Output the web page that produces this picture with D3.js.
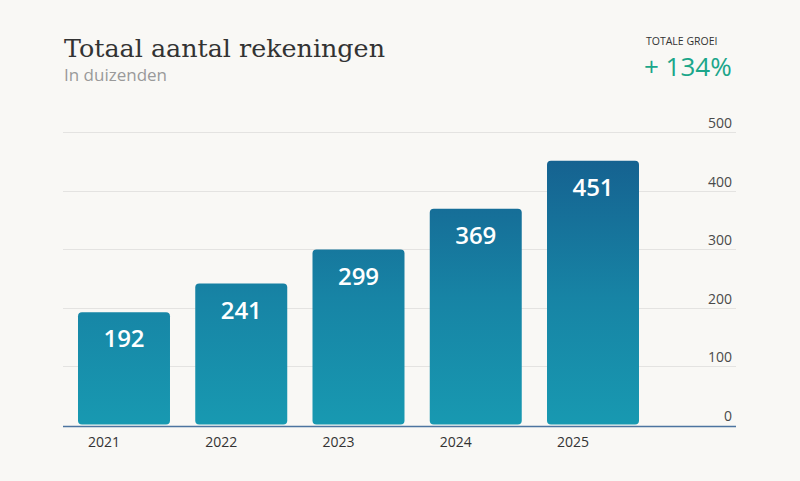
<!DOCTYPE html>
<html><head><meta charset="utf-8">
<script src="https://cdn.jsdelivr.net/npm/d3@7"></script>
<style>
html,body{margin:0;padding:0;background:#f9f8f5;}
svg{display:block;}
</style></head>
<body>
<svg id="chart" width="800" height="481"></svg>
<script>
const years = ["2021","2022","2023","2024","2025"];
const values = [192, 241, 299, 369, 451];
const yTicks = [0, 100, 200, 300, 400, 500];
const title = "Totaal aantal rekeningen";
const subtitle = "In duizenden";
const growthLabel = "TOTALE GROEI";
const growthValue = "+ 134%";

const svg = d3.select("#chart");
svg.append("rect").attr("width",800).attr("height",481).attr("fill","#f9f8f5");

const plotLeft = 63, plotRight = 736, plotTop = 132, plotBottom = 424.5;
const y = d3.scaleLinear().domain([0,500]).range([plotBottom, plotTop]);
const x = d3.scaleBand().domain(years).range([66.275, 650.725]).paddingInner(0.2154).paddingOuter(0.1);

const defs = svg.append("defs");
const grad = defs.append("linearGradient").attr("id","barGrad")
  .attr("gradientUnits","userSpaceOnUse").attr("x1",0).attr("x2",0)
  .attr("y1", y(480)).attr("y2", y(0));
grad.append("stop").attr("offset","0%").attr("stop-color","#155e8e");
grad.append("stop").attr("offset","55%").attr("stop-color","#1784a5");
grad.append("stop").attr("offset","100%").attr("stop-color","#1899b1");

// grid lines
svg.append("g").selectAll("line").data(yTicks.filter(d=>d>0)).join("line")
  .attr("x1",plotLeft).attr("x2",plotRight)
  .attr("y1",d=>Math.round(y(d))+0.5).attr("y2",d=>Math.round(y(d))+0.5)
  .attr("stroke","#e4e3e1").attr("stroke-width",1);

// y tick labels
svg.append("g").selectAll("text").data(yTicks).join("text")
  .attr("x",732).attr("y",d=>y(d)-4)
  .attr("text-anchor","end")
  .attr("font-family","'Open Sans', sans-serif").attr("font-size",14)
  .attr("fill","#4a4a4a").text(d=>d);

// bars
svg.append("g").selectAll("rect").data(values).join("rect")
  .attr("x",(d,i)=>x(years[i])).attr("width",x.bandwidth())
  .attr("y",d=>y(d)).attr("height",d=>plotBottom-y(d))
  .attr("rx",4).attr("ry",4)
  .attr("fill","url(#barGrad)");

// value labels
svg.append("g").selectAll("text").data(values).join("text")
  .attr("x",(d,i)=>x(years[i])+x.bandwidth()/2)
  .attr("y",d=>y(d)+35)
  .attr("text-anchor","middle")
  .attr("font-family","'Open Sans', sans-serif").attr("font-weight",600).attr("font-size",24)
  .attr("fill","#ffffff").text(d=>d);

// axis baseline
svg.append("line").attr("x1",plotLeft).attr("x2",plotRight).attr("y1",426.5).attr("y2",426.5)
  .attr("stroke","#4d74a0").attr("stroke-width",1.5);

// x labels
svg.append("g").selectAll("text").data(years).join("text")
  .attr("x",d=>x(d)+10).attr("y",447)
  .attr("font-family","'Open Sans', sans-serif").attr("font-size",14)
  .attr("fill","#333").text(d=>d);

// titles
svg.append("text").attr("x",64).attr("y",57)
  .attr("font-family","'DejaVu Serif', serif").attr("font-size",25)
  .attr("fill","#333").attr("textLength",321).attr("lengthAdjust","spacingAndGlyphs")
  .text(title);
svg.append("text").attr("x",64).attr("y",81)
  .attr("font-family","'Open Sans', sans-serif").attr("font-size",17)
  .attr("fill","#9a9a9a").text(subtitle);

svg.append("text").attr("x",646).attr("y",45)
  .attr("font-family","'Open Sans', sans-serif").attr("font-size",10.5)
  .attr("fill","#333").text(growthLabel);
svg.append("text").attr("x",644).attr("y",76)
  .attr("font-family","'Open Sans', sans-serif").attr("font-size",26)
  .attr("fill","#1ba68a").text(growthValue);
</script>
</body></html>
